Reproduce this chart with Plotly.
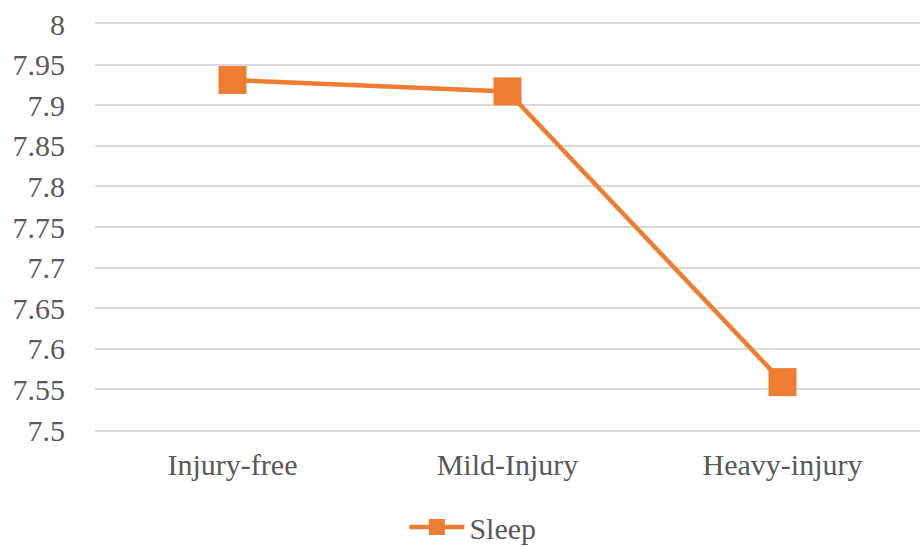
import plotly.graph_objects as go

# ── Data ──────────────────────────────────────────────────────────────────────
categories = ["Injury-free", "Mild-Injury", "Heavy-injury"]
sleep = [7.931, 7.917, 7.559]
y_ticks = [7.5, 7.55, 7.6, 7.65, 7.7, 7.75, 7.8, 7.85, 7.9, 7.95, 8]
y_tick_text = ["7.5", "7.55", "7.6", "7.65", "7.7", "7.75", "7.8", "7.85", "7.9", "7.95", "8"]

ORANGE = "#ED7D31"
GRID = "#D9D9D9"
TEXT = "#595959"
FONT = "Liberation Serif"

fig = go.Figure(go.Scatter(
    x=categories, y=sleep, name="Sleep",
    mode="lines+markers",
    line=dict(color=ORANGE, width=4.5),
    marker=dict(symbol="square", size=28, color=ORANGE),
))

fig.update_layout(
    width=920, height=546,
    paper_bgcolor="white", plot_bgcolor="white",
    font=dict(family=FONT, color=TEXT, size=30),
    margin=dict(t=24, b=116, l=95, r=0, autoexpand=False),
    showlegend=True,
    legend=dict(orientation="h", xref="container", x=0.514, xanchor="center",
                yref="container", y=0.035, yanchor="middle",
                font=dict(family=FONT, size=30, color=TEXT), itemwidth=55),
)
fig.update_xaxes(
    type="category", range=[-0.5, 2.5], automargin=False,
    showgrid=False, zeroline=False,
    showline=True, mirror=True, linecolor=GRID, linewidth=1.5,
    ticks="", ticklabelstandoff=7,
    tickfont=dict(family=FONT, size=30, color=TEXT),
)
fig.update_yaxes(
    range=[7.5, 8], tickvals=y_ticks, ticktext=y_tick_text, automargin=False,
    showgrid=True, gridcolor=GRID, gridwidth=1.5,
    zeroline=False, showline=False,
    ticks="outside", ticklen=23, tickcolor="rgba(0,0,0,0)",
    tickfont=dict(family=FONT, size=30, color=TEXT),
)

# page body has an 8px default margin; drop it so the figure fills the window
fig.write_html("out.html", config={"displayModeBar": False},
               post_script="document.body.style.margin='0';")
